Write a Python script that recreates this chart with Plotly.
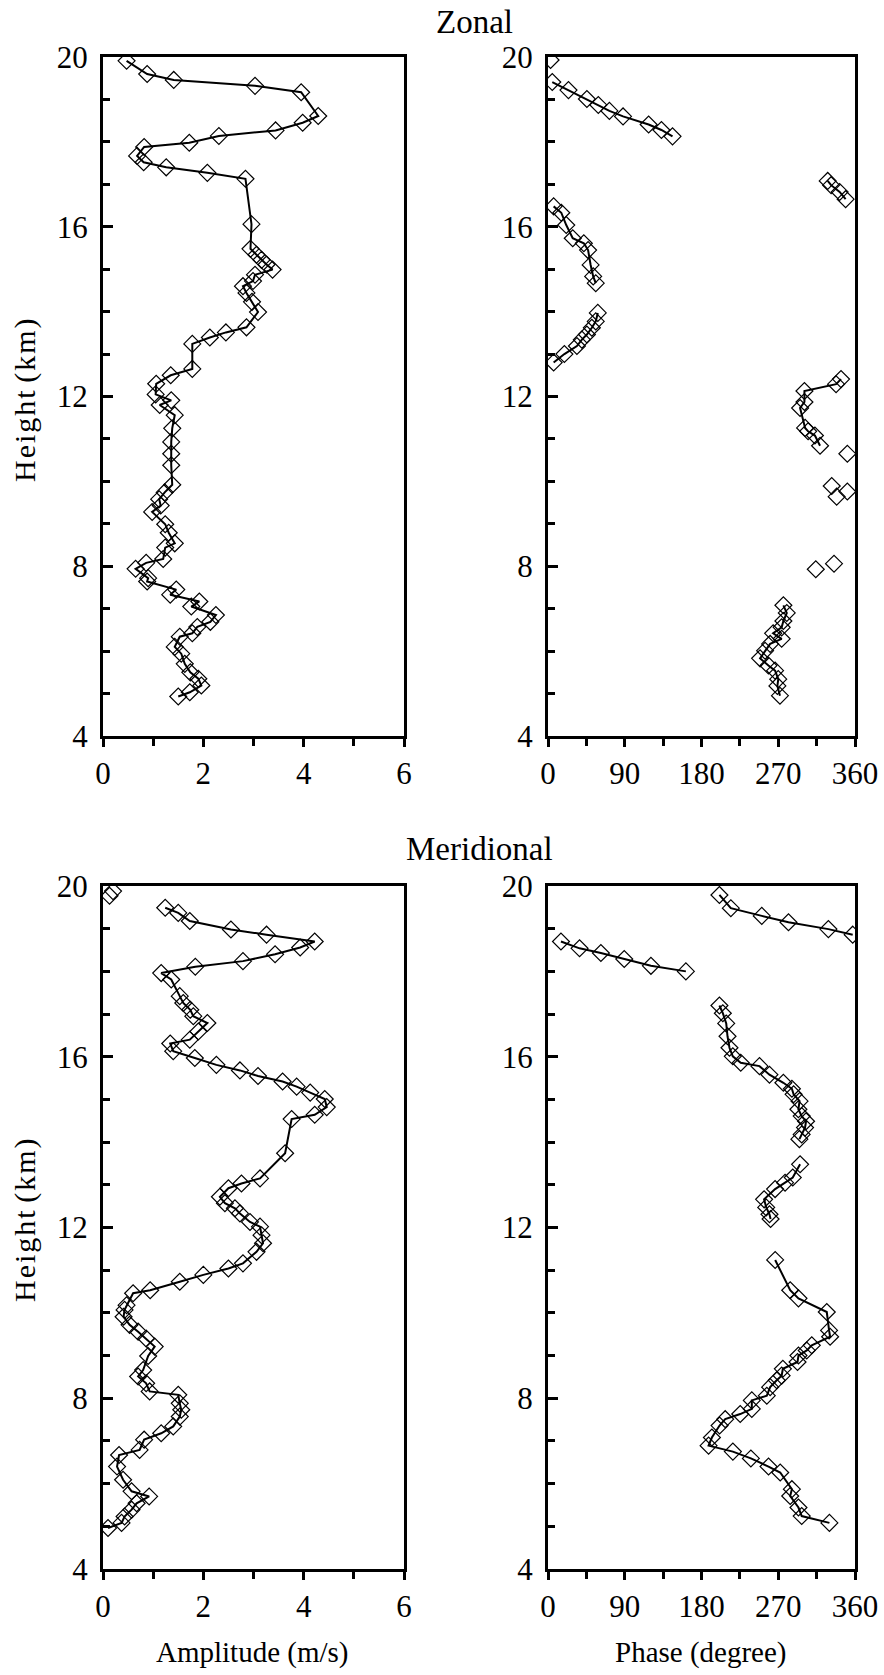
import plotly.graph_objects as go

# ---- Zonal amplitude profile (m/s) vs height (km)
zonal_amp_height = [19.91, 19.60, 19.46, 19.32, 19.17, 18.61, 18.45, 18.27, 18.14, 17.98,
                    17.88, 17.67, 17.52, 17.40, 17.27, 17.13, 16.06, 15.48, 15.34, 15.22,
                    15.11, 14.99, 14.87, 14.72, 14.60, 14.44, 14.23, 13.99, 13.63, 13.51,
                    13.39, 13.24, 12.65, 12.50, 12.30, 12.05, 11.91, 11.80, 11.56, 11.25,
                    10.93, 10.65, 10.38, 9.92, 9.74, 9.58, 9.43, 9.28, 8.99, 8.79,
                    8.54, 8.44, 8.17, 8.08, 7.94, 7.72, 7.64, 7.45, 7.33, 7.17,
                    7.05, 6.85, 6.69, 6.57, 6.42, 6.34, 6.10, 5.94, 5.70, 5.50,
                    5.35, 5.19, 5.03, 4.93]
zonal_amp = [0.47, 0.88, 1.41, 3.03, 3.95, 4.29, 3.98, 3.44, 2.31, 1.72,
             0.82, 0.68, 0.81, 1.26, 2.08, 2.84, 2.96, 2.94, 3.06, 3.16,
             3.26, 3.38, 3.03, 2.99, 2.79, 2.86, 2.97, 3.09, 2.86, 2.45,
             2.13, 1.78, 1.78, 1.35, 1.06, 1.05, 1.36, 1.13, 1.43, 1.38,
             1.36, 1.36, 1.36, 1.38, 1.23, 1.12, 1.15, 0.98, 1.24, 1.31,
             1.43, 1.24, 1.20, 0.86, 0.65, 0.90, 0.88, 1.46, 1.34, 1.92,
             1.76, 2.25, 2.14, 1.88, 1.78, 1.53, 1.43, 1.56, 1.63, 1.74,
             1.90, 1.96, 1.73, 1.50]

# ---- Zonal phase (degree); None separates wrapped branches
zonal_phase_height = [19.41, 19.22, 19.01, 18.87, 18.73, 18.60, 18.41, 18.28, 18.13, None,
                      17.08, 16.98, 16.82, 16.65, None,
                      16.48, 16.33, 16.04, 15.73, 15.61, 15.45, 15.10, 14.83, 14.67, None,
                      13.97, 13.77, 13.62, 13.46, 13.34, 13.19, 13.00, 12.80, None,
                      12.41, 12.29, 12.13, 11.87, 11.73, 11.26, 11.18, 11.08, 10.84, None,
                      7.08, 6.90, 6.71, 6.56, 6.42, 6.29, 6.17, 6.01, 5.83, 5.66,
                      5.54, 5.34, 5.18, 4.95]
zonal_phase = [5, 24, 45.6, 59, 72, 88, 118, 133, 146, None,
               328, 332, 342, 349, None,
               6.6, 15.6, 21.4, 29, 42, 47, 50, 53, 56, None,
               58.4, 56, 51.4, 45.6, 39.7, 33.9, 19.2, 6.6, None,
               343.6, 337.8, 300.7, 300.7, 295.6, 301.5, 305, 313, 319, None,
               276, 280, 276, 274, 264, 274, 260.5, 254.6, 248.7, 258.5,
               266.3, 270, 269, 272]
zonal_phase_iso_height = [19.93, 10.65, 9.89, 9.76, 9.64, 8.06, 7.93]
zonal_phase_iso = [3, 351, 332.7, 351, 338.5, 335.4, 314]

# ---- Meridional amplitude (m/s)
merid_amp_height = [19.49, 19.37, 19.18, 18.98, 18.86, 18.70, 18.56, 18.40, 18.24, 18.11,
                    17.96, 17.81, 17.42, 17.26, 17.10, 16.95, 16.79, 16.59, 16.40, 16.31,
                    16.13, 15.97, 15.81, 15.68, 15.55, 15.42, 15.30, 15.16, 15.01, 14.82,
                    14.64, 14.54, 13.74, 13.15, 13.03, 12.92, 12.72, 12.57, 12.45, 12.33,
                    12.13, 12.02, 11.82, 11.63, 11.43, 11.16, 11.04, 10.89, 10.73, 10.53,
                    10.46, 10.18, 10.07, 9.91, 9.72, 9.56, 9.40, 9.21, 8.99, 8.66,
                    8.51, 8.35, 8.16, 8.08, 7.88, 7.73, 7.57, 7.34, 7.18, 7.03,
                    6.79, 6.67, 6.40, 6.09, 5.82, 5.70, 5.54, 5.39, 5.23, 5.08, 4.96]
merid_amp = [1.24, 1.50, 1.73, 2.55, 3.26, 4.22, 3.93, 3.43, 2.79, 1.84,
             1.16, 1.36, 1.53, 1.60, 1.74, 1.80, 2.08, 1.90, 1.73, 1.34,
             1.40, 1.83, 2.26, 2.73, 3.09, 3.58, 3.86, 4.13, 4.42, 4.46,
             4.22, 3.76, 3.63, 3.13, 2.76, 2.50, 2.33, 2.43, 2.63, 2.73,
             2.93, 3.13, 3.16, 3.19, 3.06, 2.79, 2.50, 2.00, 1.53, 0.94,
             0.60, 0.47, 0.43, 0.41, 0.53, 0.70, 0.86, 1.03, 0.90, 0.80,
             0.70, 0.86, 0.93, 1.50, 1.53, 1.56, 1.53, 1.40, 1.16, 0.82,
             0.73, 0.32, 0.28, 0.40, 0.57, 0.92, 0.67, 0.57, 0.43, 0.37, 0.10]
merid_amp_iso_height = [19.88, 19.77]
merid_amp_iso = [0.20, 0.13]

# ---- Meridional phase (degree)
merid_phase_height = [19.79, 19.48, 19.30, 19.15, 18.99, 18.86, None,
                      18.70, 18.54, 18.43, 18.29, 18.13, 18.00, None,
                      17.20, 17.02, 16.78, 16.48, 16.21, 16.01, 15.86, 15.78, 15.58, 15.39,
                      15.25, 15.12, 14.96, 14.77, 14.61, 14.49, 14.34, 14.18, 14.07, None,
                      13.48, 13.17, 13.05, 12.90, 12.66, 12.47, 12.31, 12.20, None,
                      11.24, 10.53, 10.34, 10.02, 9.59, 9.44, 9.24, 9.12, 9.00, 8.85,
                      8.69, 8.53, 8.42, 8.26, 8.06, 7.95, 7.75, 7.63, 7.51, 7.36,
                      7.08, 6.89, 6.75, 6.59, 6.40, 6.26, 5.87, 5.71, 5.44, 5.24, 5.08]
merid_phase = [201, 214.4, 250.7, 282, 328.8, 357.3, None,
               15.2, 37, 62, 89.4, 120.7, 161.7, None,
               201, 205, 209, 210.5, 212.8, 216.7, 226, 248, 259.7, 276,
               286, 288, 295, 293.6, 297.5, 302.6, 301.4, 297.5, 294.8, None,
               295.6, 287, 278, 266.3, 253.4, 255.9, 259.7, 261, None,
               266.4, 284, 293.7, 326.9, 329.6, 330.8, 309.3, 303.4, 293.7, 292.6,
               275.4, 274, 268.2, 260.5, 256.6, 239, 239, 225.4, 207.8, 201.2,
               192.2, 188.3, 216.8, 237.9, 258.6, 272.3, 286, 284, 293.7, 297.5, 330]

height_ticks = [4, 8, 12, 16, 20]
amp_ticks = [0, 2, 4, 6]
phase_ticks = [0, 90, 180, 270, 360]

FONT = "Times New Roman, Liberation Serif, DejaVu Serif, serif"
W, H = 884, 1675

marker = dict(symbol="diamond-open", size=13, color="black", line=dict(width=1.2, color="black"))
line = dict(color="black", width=2)

fig = go.Figure()

def add_profile(x, y, xa, ya, with_line=True):
    fig.add_trace(go.Scatter(
        x=x, y=y, xaxis=xa, yaxis=ya,
        mode="lines+markers" if with_line else "markers",
        line=line, marker=marker, connectgaps=False, hoverinfo="x+y"))

add_profile(zonal_amp, zonal_amp_height, "x", "y")
add_profile(zonal_phase, zonal_phase_height, "x2", "y2")
add_profile(zonal_phase_iso, zonal_phase_iso_height, "x2", "y2", with_line=False)
add_profile(merid_amp, merid_amp_height, "x3", "y3")
add_profile(merid_amp_iso, merid_amp_iso_height, "x3", "y3", with_line=False)
add_profile(merid_phase, merid_phase_height, "x4", "y4")

tickfont = dict(family=FONT, size=31, color="black")

def px_x(a, b):
    return [a / W, b / W]

def px_y(top, bottom):
    return [1 - bottom / H, 1 - top / H]

def yaxis(domain, anchor):
    return dict(domain=domain, anchor=anchor, range=[4, 20], tickvals=height_ticks,
                ticks="inside", ticklen=10, tickwidth=2.5, tickcolor="black",
                showline=True, linewidth=3, linecolor="black", mirror=True,
                showgrid=False, zeroline=False, tickfont=tickfont,
                ticklabelstandoff=6, automargin=False,
                minor=dict(tick0=4, dtick=1, ticks="inside", ticklen=7,
                           tickwidth=2.5, tickcolor="black", showgrid=False))

def xaxis(domain, anchor, rng, vals, minor_step):
    return dict(domain=domain, anchor=anchor, range=rng, tickvals=vals,
                ticks="outside", ticklen=8, tickwidth=2.5, tickcolor="black",
                showline=True, linewidth=3, linecolor="black", mirror=True,
                showgrid=False, zeroline=False, tickfont=tickfont, automargin=False,
                minor=dict(tick0=0, dtick=minor_step, ticks="outside", ticklen=7,
                           tickwidth=2.5, tickcolor="black", showgrid=False))

left = px_x(103, 404)
right = px_x(548, 855)
top_row = px_y(57, 736)
bot_row = px_y(886, 1569)

fig.update_layout(
    width=W, height=H, autosize=False,
    margin=dict(l=0, r=0, t=0, b=0, pad=0, autoexpand=False),
    paper_bgcolor="white", plot_bgcolor="white",
    showlegend=False,
    font=dict(family=FONT, color="black"),
    xaxis=xaxis(left, "y", [0, 6], amp_ticks, 1),
    yaxis=yaxis(top_row, "x"),
    xaxis2=xaxis(right, "y2", [0, 360], phase_ticks, 45),
    yaxis2=yaxis(top_row, "x2"),
    xaxis3=xaxis(left, "y3", [0, 6], amp_ticks, 1),
    yaxis3=yaxis(bot_row, "x3"),
    xaxis4=xaxis(right, "y4", [0, 360], phase_ticks, 45),
    yaxis4=yaxis(bot_row, "x4"),
)

def label(text, x, y, size, angle=0):
    fig.add_annotation(text=text, x=x / W, y=1 - y / H, xref="paper", yref="paper",
                       xanchor="center", yanchor="middle", showarrow=False,
                       textangle=angle, font=dict(family=FONT, size=size, color="black"))

# letter-spaced axis title: narrow non-breaking spacers between glyphs
gap = "<span style='font-size:8px'>\u00a0</span>"
height_title = gap.join(list("Height")) + " " + gap.join(list("(km)"))

label("Zonal", 474, 22, 33)
label("Meridional", 480, 849, 33)
label("Amplitude (m/s)", 252, 1652, 29)
label("Phase (degree)", 701, 1652, 29)
label(height_title, 25, 400, 30, angle=-90)
label(height_title, 25, 1220, 30, angle=-90)

fig.write_html("out.html")
